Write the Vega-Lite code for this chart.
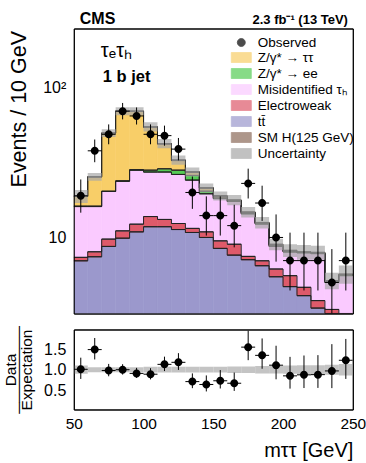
{
  "$schema": "https://vega.github.io/schema/vega-lite/v6.json",
  "background": "white",
  "padding": {"left": 2.8, "top": 10.5, "right": 0, "bottom": 0},
  "bounds": "flush",
  "spacing": 16,
  "datasets": {
    "bkg": [
      {"x0": 50, "x1": 60, "tt̄": 6.98, "Electroweak": 0.38, "Misidentified τₕ": 8.74, "Z/γ* → ee": 0.1, "Z/γ* → ττ": 2.6, "SM H(125 GeV)": 0.1},
      {"x0": 60, "x1": 70, "tt̄": 7.43, "Electroweak": 0.59, "Misidentified τₕ": 8.08, "Z/γ* → ee": 0.1, "Z/γ* → ττ": 9.2, "SM H(125 GeV)": 0.1},
      {"x0": 70, "x1": 80, "tt̄": 8.71, "Electroweak": 1.04, "Misidentified τₕ": 10.55, "Z/γ* → ee": 0.1, "Z/γ* → ττ": 29.5, "SM H(125 GeV)": 0.1},
      {"x0": 80, "x1": 90, "tt̄": 9.89, "Electroweak": 1.18, "Misidentified τₕ": 12.73, "Z/γ* → ee": 0.1, "Z/γ* → ττ": 46.0, "SM H(125 GeV)": 0.1},
      {"x0": 90, "x1": 100, "tt̄": 10.9, "Electroweak": 1.37, "Misidentified τₕ": 15.93, "Z/γ* → ee": 0.2, "Z/γ* → ττ": 41.4, "SM H(125 GeV)": 0.2},
      {"x0": 100, "x1": 110, "tt̄": 11.8, "Electroweak": 2.0, "Misidentified τₕ": 13.6, "Z/γ* → ee": 0.8, "Z/γ* → ττ": 26.5, "SM H(125 GeV)": 0.3},
      {"x0": 110, "x1": 120, "tt̄": 11.8, "Electroweak": 1.4, "Misidentified τₕ": 14.2, "Z/γ* → ee": 1.4, "Z/γ* → ττ": 13.4, "SM H(125 GeV)": 0.3},
      {"x0": 120, "x1": 130, "tt̄": 11.3, "Electroweak": 1.1, "Misidentified τₕ": 14.0, "Z/γ* → ee": 1.8, "Z/γ* → ττ": 4.5, "SM H(125 GeV)": 0.3},
      {"x0": 130, "x1": 140, "tt̄": 10.8, "Electroweak": 0.7, "Misidentified τₕ": 12.7, "Z/γ* → ee": 1.8, "Z/γ* → ττ": 1.3, "SM H(125 GeV)": 0.2},
      {"x0": 140, "x1": 150, "tt̄": 10.0, "Electroweak": 0.9, "Misidentified τₕ": 8.7, "Z/γ* → ee": 0.8, "Z/γ* → ττ": 1.0, "SM H(125 GeV)": 0.1},
      {"x0": 150, "x1": 160, "tt̄": 8.45, "Electroweak": 1.04, "Misidentified τₕ": 8.71, "Z/γ* → ee": 0.2, "Z/γ* → ττ": 0.5, "SM H(125 GeV)": 0.1},
      {"x0": 160, "x1": 170, "tt̄": 7.62, "Electroweak": 1.39, "Misidentified τₕ": 8.39, "Z/γ* → ee": 0.1, "Z/γ* → ττ": 0.2, "SM H(125 GeV)": 0.1},
      {"x0": 170, "x1": 180, "tt̄": 7.1, "Electroweak": 0.37, "Misidentified τₕ": 6.93, "Z/γ* → ee": 0.1, "Z/γ* → ττ": 0.2, "SM H(125 GeV)": 0.1},
      {"x0": 180, "x1": 190, "tt̄": 6.47, "Electroweak": 0.51, "Misidentified τₕ": 5.32, "Z/γ* → ee": 0.1, "Z/γ* → ττ": 0.1, "SM H(125 GeV)": 0.1},
      {"x0": 190, "x1": 200, "tt̄": 5.46, "Electroweak": 0.69, "Misidentified τₕ": 2.55, "Z/γ* → ee": 0.1, "Z/γ* → ττ": 0.1, "SM H(125 GeV)": 0.1},
      {"x0": 200, "x1": 210, "tt̄": 4.69, "Electroweak": 0.86, "Misidentified τₕ": 2.45, "Z/γ* → ee": 0.05, "Z/γ* → ττ": 0.1, "SM H(125 GeV)": 0.05},
      {"x0": 210, "x1": 220, "tt̄": 4.08, "Electroweak": 0.56, "Misidentified τₕ": 3.26, "Z/γ* → ee": 0.05, "Z/γ* → ττ": 0.0, "SM H(125 GeV)": 0.05},
      {"x0": 220, "x1": 230, "tt̄": 3.37, "Electroweak": 0.41, "Misidentified τₕ": 4.02, "Z/γ* → ee": 0.05, "Z/γ* → ττ": 0.05, "SM H(125 GeV)": 0.05},
      {"x0": 230, "x1": 240, "tt̄": 3.05, "Electroweak": 0.25, "Misidentified τₕ": 1.7, "Z/γ* → ee": 0.05, "Z/γ* → ττ": 0.05, "SM H(125 GeV)": 0.05},
      {"x0": 240, "x1": 250, "tt̄": 2.7, "Electroweak": 0.2, "Misidentified τₕ": 2.65, "Z/γ* → ee": 0.05, "Z/γ* → ττ": 0.05, "SM H(125 GeV)": 0.05}
    ],
    "unc": [
      {"x0": 50, "x1": 60, "lo": 17.0, "hi": 20.8, "rlo": 0.90, "rhi": 1.10},
      {"x0": 60, "x1": 70, "lo": 24.0, "hi": 27.0, "rlo": 0.94, "rhi": 1.06},
      {"x0": 70, "x1": 80, "lo": 47.0, "hi": 53.0, "rlo": 0.94, "rhi": 1.06},
      {"x0": 80, "x1": 90, "lo": 65.8, "hi": 74.2, "rlo": 0.94, "rhi": 1.06},
      {"x0": 90, "x1": 100, "lo": 65.8, "hi": 74.2, "rlo": 0.94, "rhi": 1.06},
      {"x0": 100, "x1": 110, "lo": 51.2, "hi": 58.9, "rlo": 0.93, "rhi": 1.07},
      {"x0": 110, "x1": 120, "lo": 39.5, "hi": 45.5, "rlo": 0.93, "rhi": 1.07},
      {"x0": 120, "x1": 130, "lo": 30.7, "hi": 35.3, "rlo": 0.93, "rhi": 1.07},
      {"x0": 130, "x1": 140, "lo": 25.6, "hi": 29.4, "rlo": 0.93, "rhi": 1.07},
      {"x0": 140, "x1": 150, "lo": 20.0, "hi": 23.0, "rlo": 0.93, "rhi": 1.07},
      {"x0": 150, "x1": 160, "lo": 17.7, "hi": 20.3, "rlo": 0.93, "rhi": 1.07},
      {"x0": 160, "x1": 170, "lo": 16.4, "hi": 19.2, "rlo": 0.92, "rhi": 1.08},
      {"x0": 170, "x1": 180, "lo": 13.6, "hi": 16.0, "rlo": 0.92, "rhi": 1.08},
      {"x0": 180, "x1": 190, "lo": 11.5, "hi": 13.7, "rlo": 0.91, "rhi": 1.09},
      {"x0": 190, "x1": 200, "lo": 8.2, "hi": 9.8, "rlo": 0.91, "rhi": 1.09},
      {"x0": 200, "x1": 210, "lo": 7.4, "hi": 9.0, "rlo": 0.90, "rhi": 1.10},
      {"x0": 210, "x1": 220, "lo": 7.1, "hi": 8.9, "rlo": 0.89, "rhi": 1.11},
      {"x0": 220, "x1": 230, "lo": 7.1, "hi": 8.8, "rlo": 0.89, "rhi": 1.11},
      {"x0": 230, "x1": 240, "lo": 4.5, "hi": 5.8, "rlo": 0.88, "rhi": 1.12},
      {"x0": 240, "x1": 250, "lo": 4.9, "hi": 6.5, "rlo": 0.86, "rhi": 1.14}
    ],
    "obs": [
      {"xc": 55, "x0": 50, "x1": 60, "n": 19, "lo": 14.65, "hi": 24.44, "r": 1.01, "rlo": 0.775, "rhi": 1.293},
      {"xc": 65, "x0": 60, "x1": 70, "n": 38, "lo": 31.87, "hi": 45.22, "r": 1.49, "rlo": 1.25, "rhi": 1.773},
      {"xc": 75, "x0": 70, "x1": 80, "n": 49, "lo": 42.02, "hi": 57.06, "r": 0.98, "rlo": 0.84, "rhi": 1.141},
      {"xc": 85, "x0": 80, "x1": 90, "n": 70, "lo": 61.65, "hi": 79.4, "r": 1.0, "rlo": 0.881, "rhi": 1.134},
      {"xc": 95, "x0": 90, "x1": 100, "n": 65, "lo": 56.96, "hi": 74.1, "r": 0.91, "rlo": 0.80, "rhi": 1.045},
      {"xc": 105, "x0": 100, "x1": 110, "n": 49, "lo": 42.02, "hi": 57.06, "r": 0.89, "rlo": 0.764, "rhi": 1.037},
      {"xc": 115, "x0": 110, "x1": 120, "n": 48, "lo": 41.1, "hi": 56.0, "r": 1.13, "rlo": 0.967, "rhi": 1.318},
      {"xc": 125, "x0": 120, "x1": 130, "n": 39, "lo": 32.8, "hi": 46.3, "r": 1.18, "rlo": 0.994, "rhi": 1.403},
      {"xc": 135, "x0": 130, "x1": 140, "n": 20, "lo": 15.54, "hi": 25.55, "r": 0.71, "rlo": 0.55, "rhi": 0.91},
      {"xc": 145, "x0": 140, "x1": 150, "n": 14, "lo": 10.3, "hi": 18.83, "r": 0.64, "rlo": 0.47, "rhi": 0.86},
      {"xc": 155, "x0": 150, "x1": 160, "n": 14, "lo": 10.3, "hi": 18.83, "r": 0.73, "rlo": 0.542, "rhi": 0.991},
      {"xc": 165, "x0": 160, "x1": 170, "n": 12, "lo": 8.59, "hi": 16.55, "r": 0.67, "rlo": 0.483, "rhi": 0.93},
      {"xc": 175, "x0": 170, "x1": 180, "n": 23, "lo": 18.23, "hi": 28.86, "r": 1.55, "rlo": 1.232, "rhi": 1.95},
      {"xc": 185, "x0": 180, "x1": 190, "n": 17, "lo": 12.9, "hi": 22.2, "r": 1.35, "rlo": 1.024, "rhi": 1.762},
      {"xc": 195, "x0": 190, "x1": 200, "n": 10, "lo": 6.89, "hi": 14.26, "r": 1.11, "rlo": 0.766, "rhi": 1.584},
      {"xc": 205, "x0": 200, "x1": 210, "n": 7, "lo": 4.42, "hi": 10.77, "r": 0.85, "rlo": 0.539, "rhi": 1.313},
      {"xc": 215, "x0": 210, "x1": 220, "n": 7, "lo": 4.42, "hi": 10.77, "r": 0.875, "rlo": 0.553, "rhi": 1.346},
      {"xc": 225, "x0": 220, "x1": 230, "n": 7, "lo": 4.42, "hi": 10.77, "r": 0.88, "rlo": 0.556, "rhi": 1.355},
      {"xc": 235, "x0": 230, "x1": 240, "n": 5, "lo": 2.84, "hi": 8.36, "r": 0.97, "rlo": 0.551, "rhi": 1.623},
      {"xc": 245, "x0": 240, "x1": 250, "n": 7, "lo": 4.42, "hi": 10.77, "r": 1.23, "rlo": 0.775, "rhi": 1.75}
    ]
  },
  "config": {
    "font": "Liberation Sans",
    "view": {"stroke": "black", "strokeWidth": 1},
    "axis": {"grid": false, "labelColor": "black", "titleColor": "black", "tickColor": "black", "domainColor": "black", "titleFontWeight": "normal", "labelFont": "Liberation Sans", "titleFont": "Liberation Sans", "labelOverlap": false, "labelFlush": false, "labelBound": false}
  },
  "vconcat": [
    {
      "width": 279,
      "height": 285,
      "resolve": {"axis": {"x": "independent", "y": "independent"}},
      "layer": [
        {
          "data": {"name": "bkg"},
          "transform": [
            {"fold": ["tt̄", "Electroweak", "Misidentified τₕ", "Z/γ* → ee", "Z/γ* → ττ", "SM H(125 GeV)"], "as": ["proc", "v"]},
            {"stack": "v", "groupby": ["x0"], "as": ["lo", "hi"]}
          ],
          "mark": {"type": "rect", "clip": true, "strokeWidth": 0.6},
          "encoding": {
            "x": {"field": "x0", "type": "quantitative", "scale": {"domain": [50, 250], "nice": false, "zero": false},
              "axis": {"orient": "bottom", "values": [50, 60, 70, 80, 90, 100, 110, 120, 130, 140, 150, 160, 170, 180, 190, 200, 210, 220, 230, 240, 250], "labels": false, "title": null, "tickSize": 0, "domain": true, "zindex": 1,
                "encode": {"ticks": {"update": {"y2": {"signal": "datum.value % 50 == 0 ? -12 : -6"}}}}}},
            "x2": {"field": "x1"},
            "y": {"field": "lo", "type": "quantitative", "scale": {"type": "log", "domain": [3.1, 250], "nice": false, "clamp": true},
              "axis": {"orient": "left", "values": [4, 5, 6, 7, 8, 9, 10, 20, 30, 40, 50, 60, 70, 80, 90, 100, 200], "labelExpr": "datum.value == 10 ? '10' : datum.value == 100 ? '10²' : ''", "labelFontSize": 16, "labelPadding": 8, "tickSize": 0, "domain": true, "zindex": 1,
                "encode": {"ticks": {"update": {"x2": {"signal": "datum.value == 10 || datum.value == 100 ? 13 : 6.5"}}}},
                "title": "Events / 10 GeV", "titleFontSize": 21.5, "titleAngle": 270, "titleX": -48, "titleY": 2, "titleAlign": "right", "titleBaseline": "alphabetic"}},
            "y2": {"field": "hi"},
            "color": {"field": "proc", "type": "nominal",
              "scale": {"domain": ["Observed", "Z/γ* → ττ", "Z/γ* → ee", "Misidentified τₕ", "Electroweak", "tt̄", "SM H(125 GeV)", "Uncertainty"],
                "range": ["#000000", "#F8CE68", "#55CC55", "#FACAFF", "#DE5A6A", "#9B98CC", "#8B6A5A", "#A8A8A8"]},
              "legend": {"orient": "none", "legendX": 159, "legendY": 5.5, "title": null, "labelFontSize": 13.5, "labelColor": "black", "symbolSize": 256, "labelOffset": 8, "rowPadding": -0.3, "padding": 0, "symbolStrokeWidth": 0.8, "symbolStrokeColor": "#555555", "symbolOpacity": 1, "labelLimit": 200}},
            "stroke": {"field": "proc", "type": "nominal", "legend": null,
              "scale": {"domain": ["Observed", "Z/γ* → ττ", "Z/γ* → ee", "Misidentified τₕ", "Electroweak", "tt̄", "SM H(125 GeV)", "Uncertainty"],
                "range": ["#000000", "#F8CE68", "#55CC55", "#FACAFF", "#DE5A6A", "#9B98CC", "#8B6A5A", "#A8A8A8"]}}
          }
        },
        {
          "data": {"name": "bkg"},
          "transform": [
            {"fold": ["tt̄", "Electroweak", "Misidentified τₕ", "Z/γ* → ee", "Z/γ* → ττ", "SM H(125 GeV)"], "as": ["proc", "v"]},
            {"stack": "v", "groupby": ["x0"], "as": ["lo", "hi"]}
          ],
          "mark": {"type": "rule", "clip": true, "color": "#222222", "strokeWidth": 1},
          "encoding": {
            "x": {"field": "x0", "type": "quantitative", "axis": null},
            "x2": {"field": "x1"},
            "y": {"field": "hi", "type": "quantitative", "axis": null}
          }
        },
        {
          "data": {"name": "bkg"},
          "transform": [
            {"fold": ["tt̄", "Electroweak", "Misidentified τₕ", "Z/γ* → ee", "Z/γ* → ττ", "SM H(125 GeV)"], "as": ["proc", "v"]},
            {"stack": "v", "groupby": ["x0"], "as": ["lo", "hi"]}
          ],
          "mark": {"type": "line", "interpolate": "step-after", "clip": true, "color": "#222222", "strokeWidth": 1},
          "encoding": {
            "x": {"field": "x0", "type": "quantitative", "axis": null},
            "y": {"field": "hi", "type": "quantitative", "axis": null},
            "detail": {"field": "proc"}
          }
        },
        {
          "data": {"name": "unc"},
          "mark": {"type": "rect", "clip": true, "opacity": 0.7},
          "encoding": {
            "x": {"field": "x0", "type": "quantitative", "axis": {"orient": "top", "labels": false, "ticks": false, "domain": true, "title": null, "zindex": 1}},
            "x2": {"field": "x1"},
            "y": {"field": "lo", "type": "quantitative", "axis": {"orient": "right", "labels": false, "ticks": false, "domain": true, "title": null, "zindex": 1}},
            "y2": {"field": "hi"},
            "color": {"datum": "Uncertainty", "type": "nominal"}
          }
        },
        {
          "data": {"name": "obs"},
          "mark": {"type": "rule", "clip": true, "color": "black", "strokeWidth": 1},
          "encoding": {
            "x": {"field": "xc", "type": "quantitative", "axis": null},
            "y": {"field": "lo", "type": "quantitative", "axis": null},
            "y2": {"field": "hi"}
          }
        },
        {
          "data": {"name": "obs"},
          "mark": {"type": "rule", "clip": true, "color": "black", "strokeWidth": 1},
          "encoding": {
            "x": {"field": "x0", "type": "quantitative", "axis": null},
            "x2": {"field": "x1"},
            "y": {"field": "n", "type": "quantitative", "axis": null}
          }
        },
        {
          "data": {"name": "obs"},
          "mark": {"type": "point", "filled": true, "size": 256, "opacity": 1, "fillOpacity": 1, "clip": true},
          "encoding": {
            "x": {"field": "xc", "type": "quantitative", "axis": null},
            "y": {"field": "n", "type": "quantitative", "axis": null},
            "color": {"value": "black"},
            "shape": {"datum": "Observed", "type": "nominal",
              "scale": {"domain": ["Observed", "Z/γ* → ττ", "Z/γ* → ee", "Misidentified τₕ", "Electroweak", "tt̄", "SM H(125 GeV)", "Uncertainty"],
                "range": ["M-0.5,0A0.5,0.5 0 1,0 0.5,0A0.5,0.5 0 1,0 -0.5,0Z", "M-1.25,-0.625H1.25V0.625H-1.25Z", "M-1.25,-0.625H1.25V0.625H-1.25Z", "M-1.25,-0.625H1.25V0.625H-1.25Z", "M-1.25,-0.625H1.25V0.625H-1.25Z", "M-1.25,-0.625H1.25V0.625H-1.25Z", "M-1.25,-0.625H1.25V0.625H-1.25Z", "M-1.25,-0.625H1.25V0.625H-1.25Z"]},
              "legend": {"orient": "none", "legendX": 159, "legendY": 5.5, "title": null, "labelFontSize": 13.5, "labelColor": "black", "symbolSize": 256, "labelOffset": 8, "rowPadding": -0.3, "padding": 0, "symbolStrokeWidth": 0.8, "symbolStrokeColor": "#555555", "symbolOpacity": 1, "labelLimit": 200}}
          }
        },
        {
          "data": {"values": [{}]},
          "mark": {"type": "text", "align": "left", "baseline": "alphabetic", "fontSize": 20, "color": "black"},
          "encoding": {"x": {"datum": 69.4, "type": "quantitative", "axis": null}, "y": {"datum": 162, "type": "quantitative", "axis": null}, "text": {"value": "τₑτₕ"}}
        },
        {
          "data": {"values": [{}]},
          "mark": {"type": "text", "align": "left", "baseline": "alphabetic", "fontSize": 16.5, "fontWeight": "bold", "color": "black"},
          "encoding": {"x": {"datum": 70.8, "type": "quantitative", "axis": null}, "y": {"datum": 110.5, "type": "quantitative", "axis": null}, "text": {"value": "1 b jet"}}
        },
        {
          "data": {"values": [{}]},
          "mark": {"type": "text", "align": "left", "baseline": "alphabetic", "fontSize": 16, "fontWeight": "bold", "color": "black", "dy": -4.5},
          "encoding": {"x": {"datum": 54.3, "type": "quantitative", "axis": null}, "y": {"datum": 250, "type": "quantitative", "axis": null}, "text": {"value": "CMS"}}
        },
        {
          "data": {"values": [{}]},
          "mark": {"type": "text", "align": "right", "baseline": "alphabetic", "fontSize": 13, "fontWeight": "bold", "color": "black", "dy": -4.5},
          "encoding": {"x": {"datum": 246.5, "type": "quantitative", "axis": null}, "y": {"datum": 250, "type": "quantitative", "axis": null}, "text": {"value": "2.3 fb⁻¹ (13 TeV)"}}
        }
      ]
    },
    {
      "width": 279,
      "height": 80,
      "resolve": {"axis": {"x": "independent", "y": "independent"}},
      "layer": [
        {
          "data": {"name": "unc"},
          "mark": {"type": "rect", "clip": true, "color": "#C4C4C4"},
          "encoding": {
            "x": {"field": "x0", "type": "quantitative", "scale": {"domain": [50, 250], "nice": false, "zero": false},
              "axis": {"orient": "bottom", "values": [50, 60, 70, 80, 90, 100, 110, 120, 130, 140, 150, 160, 170, 180, 190, 200, 210, 220, 230, 240, 250], "labelExpr": "datum.value % 50 == 0 ? datum.label : ''", "labelFontSize": 15.5, "labelPadding": 7, "tickSize": 0, "domain": true, "zindex": 1,
                "encode": {"ticks": {"update": {"y2": {"signal": "datum.value % 50 == 0 ? -12 : -6"}}}},
                "title": "mττ [GeV]", "titleFontSize": 20, "titleX": 279, "titleY": 47, "titleAlign": "right", "titleBaseline": "alphabetic"}},
            "x2": {"field": "x1"},
            "y": {"field": "rlo", "type": "quantitative", "scale": {"domain": [0.03, 1.98], "nice": false, "zero": false},
              "axis": {"orient": "left", "values": [0.1, 0.2, 0.3, 0.4, 0.5, 0.6, 0.7, 0.8, 0.9, 1, 1.1, 1.2, 1.3, 1.4, 1.5, 1.6, 1.7, 1.8, 1.9], "labelExpr": "datum.value == 0.5 || datum.value == 1 || datum.value == 1.5 ? datum.label : ''", "labelFontSize": 16, "labelPadding": 8, "tickSize": 0, "domain": true, "zindex": 1,
                "encode": {"ticks": {"update": {"x2": {"signal": "datum.value == 0.5 || datum.value == 1 || datum.value == 1.5 ? 12 : 6"}}}},
                "title": ["Data", "────────", "Expectation"], "titleFontSize": 15.5, "titleLineHeight": 8, "titleAngle": 270, "titleX": -58, "titleY": 40, "titleAlign": "center", "titleBaseline": "alphabetic"}},
            "y2": {"field": "rhi"}
          }
        },
        {
          "mark": {"type": "rule", "color": "#333333", "strokeWidth": 1, "strokeDash": [1.5, 1.5]},
          "encoding": {"y": {"datum": 1, "axis": null}}
        },
        {
          "data": {"name": "obs"},
          "mark": {"type": "rule", "clip": true, "color": "black", "strokeWidth": 1},
          "encoding": {
            "x": {"field": "xc", "type": "quantitative", "axis": null},
            "y": {"field": "rlo", "type": "quantitative", "axis": null},
            "y2": {"field": "rhi"}
          }
        },
        {
          "data": {"name": "obs"},
          "mark": {"type": "rule", "clip": true, "color": "black", "strokeWidth": 1},
          "encoding": {
            "x": {"field": "x0", "type": "quantitative", "axis": null},
            "x2": {"field": "x1"},
            "y": {"field": "r", "type": "quantitative", "axis": null}
          }
        },
        {
          "data": {"name": "obs"},
          "mark": {"type": "point", "filled": true, "size": 256, "opacity": 1, "fillOpacity": 1, "color": "black", "clip": true, "shape": "M-0.5,0A0.5,0.5 0 1,0 0.5,0A0.5,0.5 0 1,0 -0.5,0Z"},
          "encoding": {
            "x": {"field": "xc", "type": "quantitative", "axis": {"orient": "top", "labels": false, "ticks": false, "domain": true, "title": null, "zindex": 1}},
            "y": {"field": "r", "type": "quantitative", "axis": {"orient": "right", "labels": false, "ticks": false, "domain": true, "title": null, "zindex": 1}}
          }
        }
      ]
    }
  ]
}
